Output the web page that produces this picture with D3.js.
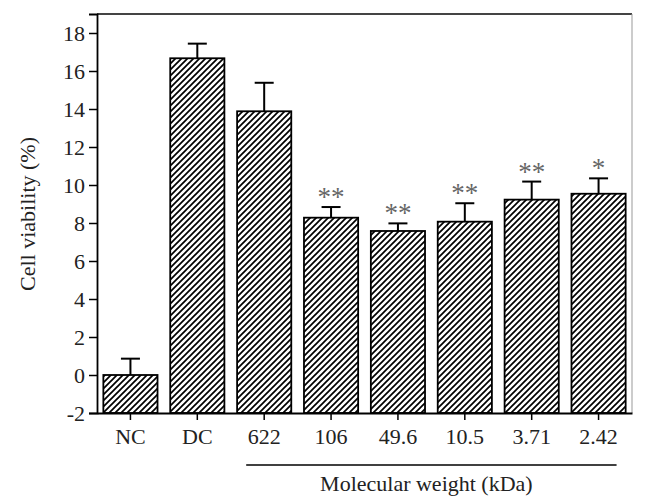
<!DOCTYPE html>
<html><head><meta charset="utf-8">
<script src="https://cdn.jsdelivr.net/npm/d3@7"></script>
<style>body{margin:0;background:#fff}svg{display:block}</style>
</head><body>
<svg id="c" width="646" height="497"></svg>
<script>
const categories = ["NC","DC","622","106","49.6","10.5","3.71","2.42"];
const values = [0, 16.67, 13.88, 8.28, 7.58, 8.07, 9.23, 9.54];
const errors = [0.86, 0.77, 1.50, 0.56, 0.40, 0.97, 0.95, 0.81];
const significance = ["", "", "", "**", "**", "**", "**", "*"];
const yTicks = [-2, 0, 2, 4, 6, 8, 10, 12, 14, 16, 18];
const yLabel = "Cell viability (%)";
const groupLabel = "Molecular weight (kDa)";
const groupStart = "622", groupEnd = "2.42";

const svg = d3.select("#c");
const L = 97, R = 632, T = 14, B = 413;
const font = "'Liberation Serif','Times New Roman',serif";

const x = d3.scaleBand().domain(categories).range([L, R]).paddingInner(0.19).paddingOuter(0.095);
const y = d3.scaleLinear().domain([-2, 19]).range([B, T]);

const defs = svg.append("defs");
const pat = defs.append("pattern").attr("id","hatch").attr("patternUnits","userSpaceOnUse")
  .attr("width",6).attr("height",6);
pat.append("path").attr("d","M0,6 L6,0 M-1.5,1.5 L1.5,-1.5 M4.5,7.5 L7.5,4.5")
  .attr("stroke","#000").attr("stroke-width",1.7);

// frame top and right
svg.append("line").attr("x1",L).attr("x2",R).attr("y1",T).attr("y2",T).attr("stroke","#444").attr("stroke-width",2);
svg.append("line").attr("x1",R).attr("x2",R).attr("y1",T).attr("y2",B).attr("stroke","#999").attr("stroke-width",1);

// bars
const data = categories.map((c,i)=>({c, v:values[i], e:errors[i], s:significance[i]}));
svg.selectAll("rect.bar").data(data).join("rect").attr("class","bar")
  .attr("x",d=>x(d.c)).attr("width",x.bandwidth())
  .attr("y",d=>y(d.v)).attr("height",d=>y(-2)-y(d.v))
  .attr("fill","url(#hatch)").attr("stroke","#000").attr("stroke-width",1.8);

// error bars
const cap = 19;
const eg = svg.selectAll("g.err").data(data).join("g").attr("class","err")
  .attr("stroke","#000").attr("stroke-width",2);
eg.append("line").attr("x1",d=>x(d.c)+x.bandwidth()/2).attr("x2",d=>x(d.c)+x.bandwidth()/2)
  .attr("y1",d=>y(d.v)).attr("y2",d=>y(d.v+d.e));
eg.append("line").attr("x1",d=>x(d.c)+x.bandwidth()/2-cap/2).attr("x2",d=>x(d.c)+x.bandwidth()/2+cap/2)
  .attr("y1",d=>y(d.v+d.e)).attr("y2",d=>y(d.v+d.e));

// significance
svg.selectAll("text.sig").data(data.filter(d=>d.s)).join("text").attr("class","sig")
  .attr("x",d=>x(d.c)+x.bandwidth()/2).attr("y",d=>y(d.v+d.e)-1)
  .attr("text-anchor","middle").attr("font-family",font).attr("font-size",27)
  .attr("fill","#666").text(d=>d.s);

// y axis
const ya = svg.append("g").attr("transform",`translate(${L},0)`)
  .call(d3.axisLeft(y).tickValues(yTicks).tickSize(8).tickPadding(4).tickFormat(d=>String(d)));
ya.select(".domain").attr("stroke","#000").attr("stroke-width",1.8);
ya.selectAll(".tick line").attr("stroke","#000").attr("stroke-width",1.5);
ya.selectAll("text").attr("font-family",font).attr("font-size",22).attr("fill","#222");

// x axis
const xa = svg.append("g").attr("transform",`translate(0,${B})`)
  .call(d3.axisBottom(x).tickSize(7).tickPadding(8).tickSizeOuter(0));
xa.select(".domain").attr("stroke","#000").attr("stroke-width",1.8);
xa.selectAll(".tick line").attr("stroke","#000").attr("stroke-width",1.5);
xa.selectAll("text").attr("font-family",font).attr("font-size",22).attr("fill","#222");

// y label
svg.append("text").attr("transform",`translate(35,214) rotate(-90)`)
  .attr("text-anchor","middle").attr("font-family",font).attr("font-size",22).attr("fill","#222")
  .text(yLabel);

// group underline + label
const gx1 = x(groupStart)+x.bandwidth()/2 - 18, gx2 = x(groupEnd)+x.bandwidth()/2 + 18;
svg.append("line").attr("x1",gx1).attr("x2",gx2).attr("y1",465).attr("y2",465).attr("stroke","#000").attr("stroke-width",1.5);
svg.append("text").attr("x",(gx1+gx2)/2 - 5).attr("y",491).attr("text-anchor","middle")
  .attr("font-family",font).attr("font-size",22).attr("fill","#222").text(groupLabel);
</script>
</body></html>
